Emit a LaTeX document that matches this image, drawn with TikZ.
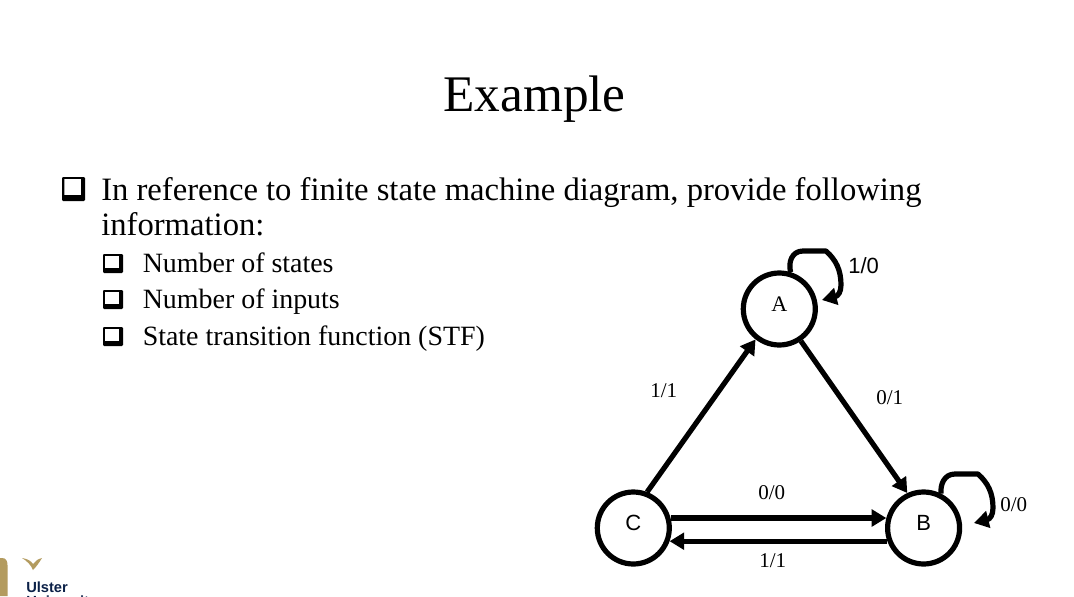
\documentclass[tikz,border=0pt]{standalone}
\usepackage{fontspec}
\setmainfont{Liberation Serif}
\newfontfamily\arialf{Liberation Sans}
\usetikzlibrary{arrows.meta}
\newcommand{\fs}[1]{\fontsize{#1}{#1}\selectfont}
\newcommand{\up}[1]{\raisebox{7.8pt}{#1}}
\definecolor{logogold}{HTML}{B39B5F}
\definecolor{logonavy}{HTML}{0C2148}
\tikzset{
  x=0.75pt, y=-0.75pt,
  state/.style={circle, draw=black, line width=3.9pt, minimum size=54pt, inner sep=0pt, outer sep=1.95pt},
  arrowline/.style={line width=3.9pt, draw=black, -{Triangle[length=11pt,width=12.5pt]}},
  title/.style={anchor=base, inner sep=0pt, font=\fs{38.5pt}},
  bodytext/.style={anchor=base west, inner sep=0pt, font=\fs{24.48pt}},
  subtext/.style={anchor=base west, inner sep=0pt, font=\fs{20.95pt}},
  serifedge/.style={anchor=base west, inner sep=0pt, font=\fs{15.75pt}},
  sansedge/.style={anchor=base west, inner sep=0pt, font=\arialf\fs{16.5pt}},
  bulletbox/.style={draw=black, line width=1.4pt, fill=white, rounded corners=0.5pt},
  bulletshade/.style={fill=black, rounded corners=0.8pt},
}
\begin{document}
\begin{tikzpicture}
\useasboundingbox (0,0) rectangle (1074,596);
\clip (0,0) rectangle (1074,596);
\fill[white] (0,0) rectangle (1074,596);

\node[title] (ttl) at (534.5,111) {Example};

% bullets
\fill[bulletshade] (62,177) rectangle (85,201);
\draw[bulletbox] (63.5,178) rectangle (82,196);
\foreach \yy/\nm in {254/b1,290/b2,327/b3}{
  \fill[bulletshade] (103,\yy) rectangle (123,\yy+19);
  \draw[bulletbox] (104,\yy+1) rectangle (120,\yy+15);
}

\node[bodytext] (l1) at (101,200) {In reference to finite state machine diagram, provide following};
\node[bodytext] (l2) at (101,235) {information:};
\node[subtext] (s1) at (142.5,272) {Number of states};
\node[subtext] (s2) at (142.5,308) {Number of inputs};
\node[subtext] (s3) at (142.5,345) {State transition function (STF)};

% states
\node[state, font=\fs{16.6pt}] (A) at (779.3,309) {\up{A}};
\node[state, font=\arialf\fs{16.5pt}] (B) at (923.6,528) {\up{B}};
\node[state, font=\arialf\fs{16.5pt}] (C) at (633.3,528) {\up{C}};

\coordinate (loopA) at (822,300);
\coordinate (loopB) at (974,523);

\draw[arrowline] (C.69) -- (A.232);
\draw[arrowline] (A.-56) -- (B.115);
\draw[arrowline] (C.15) -- (B.165);
\draw[arrowline] (B.200) -- (C.-20);

\draw[arrowline, line join=round] (A.73) .. controls (788,262) and (792,251) .. (803,251) -- (826,251)
  .. controls (836,260) and (841,270) .. (841,285) .. controls (841,292) and (838,296) .. (loopA);
\draw[arrowline, line join=round] (B.63) .. controls (940,485) and (944,474) .. (955,474) -- (978,474)
  .. controls (988,483) and (993,493) .. (993,508) .. controls (993,515) and (990,519) .. (loopB);

% labels
\node[sansedge] (e1) at (848,273) {1/0};
\node[serifedge] (e2) at (650,397) {1/1};
\node[serifedge] (e3) at (876,404) {0/1};
\node[serifedge] (e4) at (758,499) {0/0};
\node[serifedge] (e5) at (759,567) {1/1};
\node[serifedge] (e6) at (1000,511) {0/0};

% logo
\fill[logogold] (0,558) -- (2,558) .. controls (6,558) and (7.5,561) .. (7.5,565) -- (7.5,596) -- (0,596) -- cycle;
\fill[logogold] (22,558) .. controls (28,559) and (31,561) .. (33,564) .. controls (35,561) and (38,559) .. (42,558) .. controls (39,563) and (36,567) .. (33,570) .. controls (31,565) and (27,561) .. (22,558) -- cycle;
\node[anchor=base west, inner sep=0pt, text=logonavy, font=\arialf\bfseries\fs{11pt}] (lg1) at (26,592) {Ulster};
\node[anchor=base west, inner sep=0pt, text=logonavy, font=\arialf\bfseries\fs{11pt}] (lg2) at (26,606) {University};
\end{tikzpicture}
\end{document}
